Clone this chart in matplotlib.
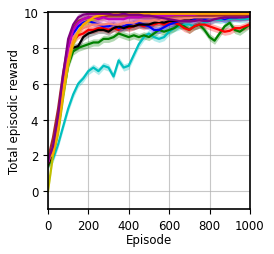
import numpy as np
import matplotlib
matplotlib.use("Agg")
import matplotlib.pyplot as plt

# episodes sampled every 25
episodes = list(range(0, 1001, 25))

cyan = [1.5, 1.8, 2.6, 3.6, 4.6, 5.4, 6.0, 6.3, 6.7, 6.9, 6.7, 7.0, 6.9, 6.4, 7.3, 6.9,
        7.0, 7.6, 8.2, 8.6, 8.8, 8.6, 8.5, 8.6, 8.9, 9.1, 9.2, 9.3, 9.3, 9.2, 9.3, 9.4,
        9.5, 9.6, 9.55, 9.6, 9.6, 9.65, 9.6, 9.6, 9.65]
green = [1.4, 2.0, 3.4, 5.4, 7.0, 7.8, 8.0, 8.1, 8.2, 8.3, 8.3, 8.5, 8.5, 8.6, 8.8, 8.7,
         8.6, 8.7, 8.6, 8.7, 8.6, 8.8, 9.0, 8.9, 9.0, 9.1, 9.3, 9.2, 9.0, 9.2, 9.3, 9.0,
         8.6, 8.4, 8.8, 9.2, 9.4, 9.0, 8.9, 9.1, 9.3]
red = [1.5, 2.2, 3.7, 5.8, 7.5, 8.4, 8.7, 8.8, 9.0, 9.0, 9.1, 9.1, 9.0, 9.1, 9.0, 9.2,
       9.1, 9.2, 9.3, 9.2, 9.3, 9.3, 9.4, 9.3, 9.4, 9.4, 9.3, 9.1, 9.0, 9.2, 9.3, 9.3,
       9.2, 9.1, 9.0, 8.9, 8.95, 9.1, 9.1, 9.2, 9.3]
blue = [1.6, 2.3, 3.9, 6.0, 7.8, 8.8, 9.2, 9.4, 9.5, 9.4, 9.3, 9.2, 9.2, 9.3, 9.1, 9.2,
        9.3, 9.4, 9.4, 9.3, 9.2, 9.0, 9.0, 9.15, 9.3, 9.4, 9.5, 9.6, 9.6, 9.6, 9.7, 9.6,
        9.7, 9.7, 9.7, 9.6, 9.7, 9.7, 9.7, 9.75, 9.75]
black = [1.5, 2.2, 3.8, 6.0, 7.7, 8.0, 8.1, 8.6, 8.8, 8.9, 9.0, 9.0, 8.9, 9.1, 9.2, 9.1,
         9.2, 9.2, 9.3, 9.3, 9.3, 9.4, 9.45, 9.4, 9.5, 9.5, 9.5, 9.6, 9.6, 9.7, 9.7, 9.7,
         9.75, 9.8, 9.8, 9.8, 9.8, 9.85, 9.85, 9.85, 9.85]
salmon = [1.6, 2.3, 3.8, 5.9, 7.6, 8.6, 8.9, 9.1, 9.2, 9.3, 9.3, 9.3, 9.35, 9.3, 9.3, 9.4,
          9.4, 9.4, 9.5, 9.5, 9.5, 9.55, 9.5, 9.6, 9.6, 9.6, 9.6, 9.65, 9.65, 9.7, 9.7, 9.7,
          9.7, 9.7, 9.75, 9.7, 9.75, 9.75, 9.7, 9.75, 9.75]
yellow = [0.0, 2.0, 3.2, 5.2, 7.0, 8.2, 8.9, 9.3, 9.5, 9.6, 9.7, 9.75, 9.8, 9.8, 9.8, 9.85,
          9.85, 9.85, 9.85, 9.85, 9.85, 9.85, 9.85, 9.85, 9.85, 9.85, 9.85, 9.85, 9.85, 9.85,
          9.85, 9.85, 9.85, 9.85, 9.85, 9.85, 9.85, 9.85, 9.85, 9.85, 9.85]
brown = [1.8, 3.0, 4.6, 6.6, 8.2, 9.1, 9.5, 9.6, 9.7, 9.7, 9.75, 9.75, 9.8, 9.8, 9.8, 9.8,
         9.8, 9.8, 9.8, 9.8, 9.8, 9.8, 9.8, 9.8, 9.8, 9.8, 9.8, 9.8, 9.8, 9.8, 9.8, 9.8,
         9.8, 9.8, 9.8, 9.8, 9.8, 9.8, 9.8, 9.8, 9.8]
magenta = [1.6, 2.4, 4.0, 6.2, 8.0, 9.0, 9.4, 9.6, 9.7, 9.7, 9.6, 9.7, 9.6, 9.6, 9.6, 9.6,
           9.7, 9.7, 9.7, 9.75, 9.75, 9.8, 9.8, 9.8, 9.8, 9.85, 9.85, 9.85, 9.85, 9.85, 9.9,
           9.9, 9.9, 9.9, 9.9, 9.9, 9.9, 9.9, 9.9, 9.9, 9.9]
orange = [1.8, 2.1, 3.5, 5.6, 7.3, 8.3, 8.9, 9.3, 9.5, 9.7, 9.8, 9.85, 9.9, 9.9, 9.9, 9.9,
          9.9, 9.9, 9.9, 9.9, 9.9, 9.9, 9.9, 9.9, 9.9, 9.9, 9.9, 9.9, 9.9, 9.9, 9.9, 9.9,
          9.9, 9.9, 9.9, 9.9, 9.9, 9.9, 9.9, 9.9, 9.9]
purple = [1.7, 2.5, 4.2, 6.5, 8.5, 9.3, 9.7, 9.85, 9.9, 9.9, 9.9, 9.9, 9.9, 9.85, 9.85, 9.9,
          9.85, 9.85, 9.85, 9.8, 9.8, 9.75, 9.7, 9.65, 9.6, 9.55, 9.5, 9.5, 9.5, 9.5, 9.55,
          9.5, 9.5, 9.6, 9.65, 9.7, 9.7, 9.7, 9.7, 9.7, 9.75]

series = [
    (cyan, "c"), (green, "green"), (red, "red"), (blue, "blue"), (black, "black"),
    (salmon, "salmon"), (yellow, "y"), (brown, "brown"), (magenta, "m"),
    (orange, "orange"), (purple, "purple"),
]

plt.rcParams["font.size"] = 8.5
fig = plt.figure(figsize=(2.74, 2.55), dpi=100)
ax = fig.add_axes([0.175, 0.176, 0.737, 0.773])

for vals, col in series:
    v = np.array(vals)
    ax.fill_between(episodes, v - 0.2, v + 0.2, color=col, alpha=0.3, lw=0)
    ax.plot(episodes, v, color=col, lw=1.6)

ax.set_xlim(0, 1000)
ax.set_ylim(-1, 10)
ax.set_xticks([0, 200, 400, 600, 800, 1000])
ax.set_yticks([0, 2, 4, 6, 8, 10])
ax.grid(True, color="#b0b0b0", lw=0.8, alpha=0.7)
ax.set_axisbelow(True)
for s in ax.spines.values():
    s.set_linewidth(1.2)
ax.set_xlabel("Episode", labelpad=1)
ax.set_ylabel("Total episodic reward", labelpad=2)

fig.savefig("out.png", dpi=100)
